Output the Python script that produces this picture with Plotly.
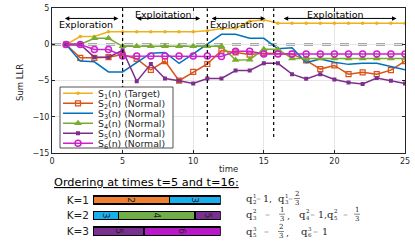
import plotly.graph_objects as go
from fractions import Fraction

# ---------------- data ----------------
time = list(range(1, 26))
S1 = [0, 1.1, 1.1, 1.75, 1.75, 1.75, 1.75, 1.75, 1.75, 1.75, 1.9, 2.2, 2.25, 3.2, 3.4,
      2.95, 2.95, 2.95, 2.95, 2.95, 2.95, 2.95, 2.95, 2.95, 2.95]
S2 = [0, -1.85, -1.85, -1.75, -1.4, -2.0, -3.5, -2.3, -5.0, -3.8, -2.7, -0.85, -1.1, -1.4, -1.2,
      -1.3, -1.3, -2.2, -3.4, -2.9, -4.1, -3.85, -4.1, -3.55, -2.3]
S3 = [0, -2.3, -2.4, -3.8, -3.8, -2.5, -1.2, -1.1, -2.6, -1.3, 0.0, 1.4, 1.4, 0.85, 0.85,
      -0.6, -0.45, -2.5, -2.0, -2.45, -2.75, -2.6, -2.6, -3.1, -3.5]
S4 = [0, 0, 0.85, 0.85, -0.25, -0.25, -0.25, -0.25, -0.25, -0.25, -0.25, -0.25, -2.15, -2.1, -0.65,
      -0.65, -1.95, -1.95, -1.95, -1.95, -1.95, -1.95, -1.95, -1.95, -1.95]
S5 = [0, 0, -1.75, -1.75, -0.8, -5.1, -2.7, -4.7, -5.0, -5.4, -4.7, -4.7, -3.6, -3.6, -2.6,
      -2.6, -4.1, -4.75, -4.1, -4.85, -5.25, -5.45, -4.65, -5.0, -5.4]
S6 = [0, 0, -0.7, -0.7, -1.6, -1.6, -1.6, -1.6, -1.6, -1.6, -1.6, -1.65, -0.95, -0.95, -1.3,
      -1.3, -1.3, -1.3, -1.3, -1.3, -1.3, -1.3, -1.3, -1.3, -1.3]
series = [S1, S2, S3, S4, S5, S6]
series_names = ["S<sub>1</sub>(n) (Target)", "S<sub>2</sub>(n) (Normal)", "S<sub>3</sub>(n) (Normal)",
                "S<sub>4</sub>(n) (Normal)", "S<sub>5</sub>(n) (Normal)", "S<sub>6</sub>(n) (Normal)"]

phase_bounds = [5, 11, 15.7]
phase_labels = ["Exploration", "Exploitation", "Exploration", "Exploitation"]
phase_from = [0.8, 5.9, 11.2, 16.3]
phase_to = [4.7, 10.5, 15.1, 24.4]
phase_label_t = [2.4, 7.9, 13.1, 20.1]

x_ticks = [0, 5, 10, 15, 20, 25]
y_ticks = [-15, -10, -5, 0, 5]

K_labels = ["K=1", "K=2", "K=3"]
order_sensors = [[2, 3], [3, 4, 5], [5, 6]]
q_values = [[Fraction(1), Fraction(2, 3)],
            [Fraction(1, 3), Fraction(1), Fraction(1, 3)],
            [Fraction(2, 3), Fraction(1)]]

# ---------------- styles ----------------
W, H = 415, 242
def px(x): return x / W
def py(y): return 1 - y / H

line_colors = ["#EDB120", "#D95319", "#0072BD", "#77AC30", "#7E2F8E", "#CC22CC"]
markers = [dict(symbol="circle", size=3.5),
           dict(symbol="square-open", size=5, line=dict(width=1.2)),
           None,
           dict(symbol="triangle-up", size=7),
           dict(symbol="square", size=4),
           dict(symbol="circle-open", size=6, line=dict(width=1.5))]
bar_colors = {2: "#EE8030", 3: "#16B0EE", 4: "#70AD47", 5: "#7A3090", 6: "#B818C8"}
ink = "#262626"
sans = "DejaVu Sans"
serif = "DejaVu Serif"

fig = go.Figure()

legend_names = ["legend"] + ["legend%d" % i for i in range(2, 7)]
for i, (ys, nm) in enumerate(zip(series, series_names)):
    mk = markers[i]
    tr = dict(x=time, y=ys, name=nm, line=dict(color=line_colors[i], width=1.5),
              legend=legend_names[i], xaxis="x", yaxis="y")
    if mk is None:
        tr["mode"] = "lines"
    else:
        m = dict(mk)
        m["color"] = line_colors[i]
        if "line" in m:
            m["line"] = dict(m["line"], color=line_colors[i])
        tr["mode"] = "lines+markers"
        tr["marker"] = m
    fig.add_trace(go.Scatter(**tr))

# ordering bars (stacked, widths proportional to q)
max_seg = max(len(r) for r in order_sensors)
for j in range(max_seg):
    xs, txt, cols = [], [], []
    for r, qs in zip(order_sensors, q_values):
        tot = sum(qs)
        if j < len(r):
            xs.append(float(qs[j] / tot)); txt.append(str(r[j])); cols.append(bar_colors[r[j]])
        else:
            xs.append(None); txt.append(""); cols.append("white")
    fig.add_trace(go.Bar(x=xs, y=K_labels, orientation="h", text=txt, textposition="inside",
                         insidetextanchor="middle", constraintext="none",
                         textfont=dict(family=sans, size=9, color="#222"),
                         marker=dict(color=cols, line=dict(color="black", width=1.5)),
                         showlegend=False, xaxis="x2", yaxis="y2", hoverinfo="skip"))

shapes = []
shapes.append(dict(type="line", xref="x", yref="y", x0=0, x1=25, y0=0, y1=0,
                   line=dict(color="#555555", width=2, dash="dash"), layer="below"))
for b in phase_bounds:
    shapes.append(dict(type="line", xref="x", yref="y", x0=b, x1=b, y0=-12.8, y1=5,
                       line=dict(color="black", width=1.2, dash="dot"), layer="above"))
shapes.append(dict(type="rect", xref="paper", yref="paper", x0=px(60), x1=px(173), y0=py(148), y1=py(87),
                   fillcolor="white", line=dict(color=ink, width=0.8), layer="above"))

ann = []
arrow_y = 3.6
for lab, a, b, lt in zip(phase_labels, phase_from, phase_to, phase_label_t):
    ann.append(dict(xref="x", yref="y", axref="x", ayref="y", x=b, y=arrow_y, ax=a, ay=arrow_y,
                    text="", showarrow=True, arrowside="end+start", arrowhead=2, arrowsize=0.9,
                    arrowwidth=1, arrowcolor="black", standoff=0, startstandoff=0))
    ly = 2.8 if lab == "Exploration" else 4.1
    ann.append(dict(xref="x", yref="y", x=lt, y=ly, text=lab, showarrow=False,
                    xanchor="center", yanchor="middle",
                    font=dict(family=sans, size=9.5, color="black")))


def ptext(x, y, text, size, family=sans, color=ink, xanchor="center", **kw):
    d = dict(xref="paper", yref="paper", x=px(x), y=py(y), text=text, showarrow=False,
             xanchor=xanchor, yanchor="middle", borderpad=0,
             font=dict(family=family, size=size, color=color))
    d.update(kw)
    return d


ann.append(ptext(20, 83, "Sum LLR", 8.5, textangle=-90))
ann.append(ptext(228, 169, "time", 8.5))
ann.append(ptext(146, 182, "<u>Ordering at times t=5 and t=16:</u>", 11.3, color="black"))

# q expressions next to the bars
row_y = [198.5, 214.2, 231.5]
term_x = [[245, 277], [245, 298, 326], [245, 300]]
value_x = [[262, 294], [279, 317, 354], [278, 321]]
qc = "#222"
for k, (r, qs) in enumerate(zip(order_sensors, q_values)):
    yc = row_y[k]
    for j, (s, q) in enumerate(zip(r, qs)):
        tx, vx = term_x[k][j], value_x[k][j]
        last = j == len(r) - 1
        ann.append(ptext(tx, yc, "q", 10, family=serif, color=qc, xanchor="left"))
        ann.append(ptext(tx + 6.5, yc - 3, str(k + 1), 5.5, family=serif, color=qc, xanchor="left"))
        ann.append(ptext(tx + 6.5, yc + 3.5, str(s), 5.5, family=serif, color=qc, xanchor="left"))
        ann.append(ptext((tx + 10.5 + vx) / 2, yc, "=", 6, family=serif, color="#b5b5b5"))
        if q.denominator == 1:
            ann.append(ptext(vx, yc, str(q.numerator) + ("" if last else ","), 9.5,
                             family=serif, color=qc, xanchor="left"))
        else:
            ann.append(ptext(vx + 3, yc - 4.5, str(q.numerator), 7, family=serif, color=qc))
            ann.append(ptext(vx + 3, yc + 4.5, str(q.denominator), 7, family=serif, color=qc))
            shapes.append(dict(type="line", xref="paper", yref="paper", x0=px(vx), x1=px(vx + 6),
                               y0=py(yc), y1=py(yc), line=dict(color="#555", width=0.7)))
            if not last:
                ann.append(ptext(vx + 7, yc + 1, ",", 9.5, family=serif, color=qc, xanchor="left"))

legends = {}
for i, ln in enumerate(legend_names):
    legends[ln] = dict(x=px(58), y=py(78.8 + 10 * i), xanchor="left", yanchor="top",
                       bgcolor="rgba(0,0,0,0)", borderwidth=0, itemwidth=30,
                       font=dict(family=sans, size=9.3, color=ink))

axis_common = dict(ticks="inside", ticklen=3, tickcolor=ink, showline=True, linecolor=ink, linewidth=1,
                   mirror="ticks", showgrid=True, gridcolor="#e6e6e6", zeroline=False,
                   showticklabels=True, ticklabeloverflow="allow", automargin=False,
                   tickfont=dict(family=sans, size=8, color=ink))

fig.update_layout(
    width=W, height=H, margin=dict(l=0, r=0, t=0, b=0),
    paper_bgcolor="white", plot_bgcolor="white",
    barmode="stack", bargap=0.48,
    xaxis=dict(domain=[px(52), px(405)], range=[0, 25], tickvals=x_ticks, anchor="y", **axis_common),
    yaxis=dict(domain=[py(153), py(8.3)], range=[-15, 5], tickvals=y_ticks, anchor="x", **axis_common),
    xaxis2=dict(domain=[px(93), px(220.7)], range=[0, 1], visible=False, anchor="y2", fixedrange=True),
    yaxis2=dict(domain=[py(239), py(192.2)], type="category", categoryorder="array", categoryarray=K_labels,
                autorange="reversed", showgrid=False, showline=False, zeroline=False, ticks="",
                ticklabelstandoff=3, anchor="x2", automargin=False,
                tickfont=dict(family=sans, size=10.5, color="#222")),
    shapes=shapes, annotations=ann,
    **legends,
)

fig.write_html("out.html", config={"displayModeBar": False, "staticPlot": True},
               post_script="document.body.style.margin='0px';document.body.style.overflow='hidden';")
